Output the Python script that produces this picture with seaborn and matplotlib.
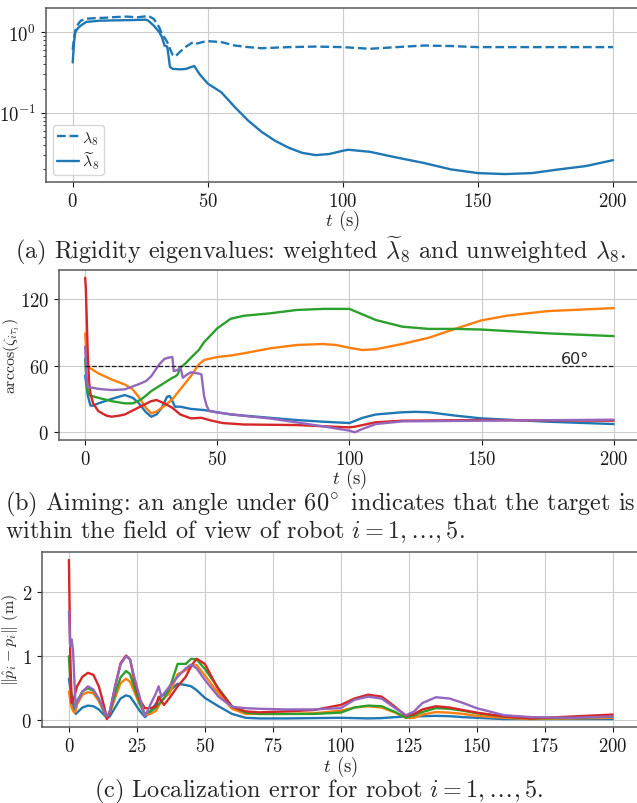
import matplotlib
matplotlib.use("Agg")
import matplotlib.pyplot as plt
import numpy as np
import pandas as pd
import seaborn as sns

# (a) rigidity eigenvalues
t_lam = [0, 0.5, 1, 2, 3, 5, 8, 12, 16, 20, 24, 27, 28, 30, 32, 33, 34, 35, 36, 37, 38,
         40, 42, 44, 45, 46, 48, 50, 55, 60, 65, 70, 80, 90, 100, 110, 120, 130, 140, 150,
         175, 200]
lam8 = [0.60, 0.85, 1.05, 1.25, 1.38, 1.46, 1.48, 1.50, 1.53, 1.55, 1.52, 1.56, 1.58, 1.45,
        1.15, 0.95, 0.85, 0.75, 0.62, 0.52, 0.50, 0.58, 0.66, 0.73, 0.75, 0.72, 0.75, 0.77,
        0.75, 0.68, 0.65, 0.63, 0.65, 0.66, 0.65, 0.62, 0.65, 0.68, 0.67, 0.65, 0.65, 0.65]
t_lamw = [0, 0.5, 1, 2, 3, 5, 10, 15, 20, 24, 27, 28, 30, 32, 33, 34, 35, 35.5, 36, 37, 40,
          42, 44, 45, 47, 50, 55, 60, 65, 70, 75, 80, 85, 90, 95, 100, 102, 110, 120, 130,
          140, 150, 160, 170, 180, 190, 200]
lam8w = [0.42, 0.75, 1.00, 1.12, 1.20, 1.33, 1.38, 1.39, 1.40, 1.41, 1.42, 1.38, 1.20, 1.00,
         0.87, 0.68, 0.66, 0.50, 0.37, 0.35, 0.345, 0.35, 0.37, 0.38, 0.30, 0.23, 0.18, 0.118,
         0.080, 0.058, 0.045, 0.037, 0.032, 0.030, 0.031, 0.034, 0.035, 0.033, 0.028, 0.024,
         0.020, 0.018, 0.0175, 0.018, 0.020, 0.022, 0.026]

# (b) aiming angles, robots 1..5
t_b1 = [0, 1, 2, 3, 5, 10, 15, 18, 20, 23, 25, 27, 29, 31, 32, 33, 34, 36, 40, 45, 50, 55,
        60, 70, 80, 90, 100, 105, 110, 120, 125, 130, 140, 150, 175, 200]
ang1 = [51, 33, 24, 24, 26, 30, 33.5, 31, 27, 18, 14, 16, 22, 32, 32.6, 28, 23, 23, 21, 20,
        18, 16, 15, 13, 11, 9.5, 8.3, 13, 16, 18, 18.4, 18, 15, 12.5, 9.5, 7.4]
t_b2 = [0, 0.5, 1, 3, 5, 10, 15, 18, 20, 23, 25, 27, 30, 33, 36, 40, 43, 45, 50, 55, 60,
        70, 80, 90, 95, 100, 105, 110, 120, 130, 140, 150, 160, 175, 200]
ang2 = [89, 68, 59, 56, 53, 47.5, 43, 38.6, 32.6, 22, 17, 18.7, 23.7, 29.7, 38.6, 50.4, 61,
        65, 67.7, 69, 71, 75.5, 78.5, 79.4, 78.5, 76, 74, 74.7, 79.4, 85, 93, 100.7, 105, 109,
        111.7]
t_b3 = [0, 0.5, 1, 2, 5, 10, 15, 18, 20, 22, 25, 30, 33, 34, 35, 36, 38, 40, 43, 45, 50, 55,
        60, 70, 80, 90, 100, 103, 110, 120, 130, 140, 150, 175, 200]
ang3 = [66, 45, 36, 33, 31, 28, 26, 26, 28, 31, 37, 44.5, 49, 50, 52, 58, 62, 67, 74, 81,
        93.5, 102, 104.8, 107, 110, 111, 111, 108, 101, 95, 93, 93, 92.4, 89, 86.5]
t_b4 = [0, 0.25, 0.5, 1, 1.5, 2, 3, 5, 8, 10, 13, 15, 20, 25, 27, 30, 33, 36, 40, 44, 48,
        52, 60, 80, 100, 102, 110, 120, 150, 200]
ang4 = [139, 130, 110, 70, 45, 35, 26, 19, 15, 14, 15, 16, 22, 28, 29, 26, 22, 16, 12.5, 13,
        10.4, 8.3, 7, 6.5, 4.4, 5, 9, 10.4, 11, 10.4]
t_b5 = [0, 0.5, 1, 3, 5, 10, 15, 20, 23, 25, 28, 30, 32, 33, 33.5, 35, 36, 37, 38, 40, 43,
        44, 45, 46, 47, 50, 55, 60, 70, 80, 90, 100, 102, 105, 110, 120, 150, 200]
ang5 = [77, 50, 40.6, 40, 39, 38, 38.6, 43, 46, 50.4, 61, 66, 67.4, 67.7, 55, 56, 58.8, 49,
        51, 54, 52.8, 52, 32.6, 23.7, 19, 17.8, 16.3, 14.8, 12.4, 8.9, 5.3, 1.5, 0, 3, 7.4,
        9.8, 10.4, 11.3]

# (c) localization error, robots 1..5
t_c = [0, 0.5, 1, 1.5, 2, 2.5, 3, 5, 7, 9, 11, 13, 14, 15, 17, 19, 21, 22.5, 24, 26, 28,
       30, 32, 33, 34, 35, 37, 40, 43, 45, 47, 50, 55, 60, 65, 70, 80, 90, 100, 105, 110,
       115, 120, 124, 127, 130, 135, 140, 145, 150, 160, 170, 185, 200]
err1 = [0.65, 0.50, 0.40, 0.25, 0.15, 0.10, 0.12, 0.20, 0.23, 0.22, 0.17, 0.08, 0.04, 0.06,
        0.20, 0.34, 0.39, 0.37, 0.28, 0.15, 0.05, 0.14, 0.26, 0.32, 0.38, 0.40, 0.46, 0.57,
        0.55, 0.53, 0.47, 0.35, 0.22, 0.10, 0.04, 0.03, 0.03, 0.035, 0.04, 0.035, 0.03, 0.035,
        0.05, 0.06, 0.06, 0.065, 0.07, 0.065, 0.05, 0.04, 0.02, 0.02, 0.02, 0.02]
err2 = [0.45, 0.30, 0.20, 0.15, 0.12, 0.15, 0.25, 0.40, 0.44, 0.42, 0.30, 0.12, 0.03, 0.10,
        0.35, 0.58, 0.65, 0.60, 0.45, 0.25, 0.08, 0.10, 0.15, 0.22, 0.30, 0.35, 0.42, 0.72,
        0.78, 0.85, 0.86, 0.70, 0.42, 0.18, 0.10, 0.10, 0.10, 0.11, 0.15, 0.20, 0.22, 0.20,
        0.12, 0.04, 0.04, 0.09, 0.13, 0.12, 0.10, 0.07, 0.04, 0.02, 0.03, 0.04]
err3 = [1.00, 0.60, 0.35, 0.28, 0.25, 0.27, 0.30, 0.45, 0.50, 0.46, 0.33, 0.13, 0.04, 0.12,
        0.42, 0.67, 0.77, 0.72, 0.52, 0.27, 0.10, 0.14, 0.20, 0.25, 0.30, 0.34, 0.50, 0.88,
        0.88, 0.96, 0.95, 0.80, 0.50, 0.22, 0.12, 0.10, 0.10, 0.10, 0.12, 0.20, 0.23, 0.22,
        0.13, 0.04, 0.08, 0.13, 0.19, 0.18, 0.15, 0.11, 0.06, 0.03, 0.04, 0.06]
err4 = [2.50, 1.00, 0.27, 0.32, 0.37, 0.45, 0.53, 0.68, 0.74, 0.71, 0.53, 0.21, 0.02, 0.11,
        0.53, 0.89, 1.01, 0.95, 0.63, 0.32, 0.19, 0.19, 0.22, 0.37, 0.30, 0.24, 0.35, 0.53,
        0.68, 0.85, 0.96, 0.88, 0.48, 0.21, 0.14, 0.125, 0.14, 0.16, 0.24, 0.34, 0.40, 0.37,
        0.21, 0.07, 0.10, 0.17, 0.22, 0.20, 0.16, 0.12, 0.06, 0.03, 0.06, 0.09]
err5 = [1.70, 1.15, 1.26, 1.10, 0.63, 0.21, 0.27, 0.45, 0.53, 0.48, 0.34, 0.14, 0.06, 0.14,
        0.53, 0.87, 1.00, 0.95, 0.68, 0.37, 0.06, 0.25, 0.42, 0.53, 0.37, 0.42, 0.53, 0.68,
        0.81, 0.87, 0.81, 0.63, 0.37, 0.21, 0.19, 0.18, 0.17, 0.17, 0.19, 0.32, 0.37, 0.34,
        0.19, 0.08, 0.14, 0.27, 0.36, 0.34, 0.27, 0.19, 0.08, 0.05, 0.04, 0.06]

colors = sns.color_palette("tab10")

sns.set_style("whitegrid", {
    "axes.edgecolor": "0.35",
    "grid.color": "0.8",
    "xtick.bottom": True,
    "ytick.left": True,
    "xtick.color": "0.1",
    "ytick.color": "0.1",
})
plt.rcParams["font.family"] = "serif"
plt.rcParams["font.serif"] = ["cmr10"]
plt.rcParams["mathtext.fontset"] = "cm"
plt.rcParams["axes.formatter.use_mathtext"] = True
plt.rcParams["xtick.labelsize"] = 13.5
plt.rcParams["ytick.labelsize"] = 13.5
plt.rcParams["axes.labelsize"] = 13.5
plt.rcParams["axes.linewidth"] = 1.1
plt.rcParams["ytick.minor.left"] = True
plt.rcParams["ytick.minor.size"] = 2

fig = plt.figure(figsize=(6.37, 8.04), dpi=100)
ax1 = fig.add_axes([0.0717, 0.7724, 0.933, 0.2164])
ax2 = fig.add_axes([0.0922, 0.4515, 0.9126, 0.2114])
ax3 = fig.add_axes([0.0655, 0.0945, 0.939, 0.2177])

lw = 1.7

# (a)
sns.lineplot(x=t_lam, y=lam8, ax=ax1, color=colors[0], lw=lw, ls="--",
             label=r"$\lambda_8$", estimator=None)
sns.lineplot(x=t_lamw, y=lam8w, ax=ax1, color=colors[0], lw=lw,
             label=r"$\widetilde{\lambda}_8$", estimator=None)
ax1.set_yscale("log")
ax1.set_xticks(range(0, 201, 50))
ax1.set_xlabel(r"$t$ (s)", labelpad=-1)
ax1.legend(loc="lower left", fontsize=11.5, handlelength=1.4, handletextpad=0.2,
           borderpad=0.25, labelspacing=0.15, borderaxespad=0.45)

# (b)
for tt, yy, c in zip([t_b1, t_b2, t_b3, t_b4, t_b5], [ang1, ang2, ang3, ang4, ang5], colors[:5]):
    sns.lineplot(x=tt, y=yy, ax=ax2, color=c, lw=lw, estimator=None)
ax2.plot([0, 200], [60, 60], color="0.1", ls="--", lw=0.9)
ax2.text(180, 62.5, "60°", family="DejaVu Sans", fontsize=11.5)
ax2.set_xticks(range(0, 201, 50))
ax2.set_yticks([0, 60, 120])
ax2.set_xlabel(r"$t$ (s)", labelpad=-1)
ax2.set_ylabel(r"$\mathrm{arccos}(\zeta_{i\tau_i})$", fontsize=11.5)
ax2.yaxis.set_label_coords(-0.064, 0.5)

# (c)
for yy, c in zip([err1, err2, err3, err4, err5], colors[:5]):
    sns.lineplot(x=t_c, y=yy, ax=ax3, color=c, lw=lw, estimator=None)
ax3.set_xticks(range(0, 201, 25))
ax3.set_yticks([0, 1, 2])
ax3.set_xlabel(r"$t$ (s)", labelpad=-1)
ax3.set_ylabel(r"$\|\hat{p}_i - p_i\|$ (m)", fontsize=11.5)
ax3.yaxis.set_label_coords(-0.036, 0.5)

# captions
cap = dict(fontsize=17.5, va="baseline", family="serif")
fig.text(15 / 637, 1 - 258 / 804,
         r"(a) Rigidity eigenvalues: weighted $\widetilde{\lambda}_8$ and unweighted $\lambda_8$.",
         ha="left", **cap)
fig.text(5 / 637, 1 - 510 / 804,
         r"(b) Aiming: an angle under $60^{\!\circ}$ indicates that the target is", ha="left", **cap)
fig.text(5 / 637, 1 - 538 / 804,
         r"within the field of view of robot $i = 1, \ldots, 5$.", ha="left", **cap)
fig.text(0.5, 1 - 797 / 804, r"(c) Localization error for robot $i = 1, \ldots, 5$.",
         ha="center", **cap)

fig.savefig("out.png", dpi=100)
